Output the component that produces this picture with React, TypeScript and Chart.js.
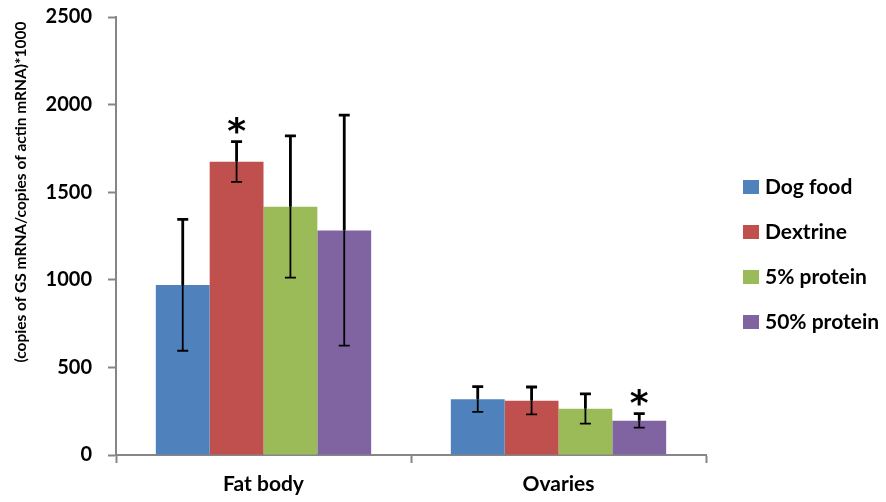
import { useEffect, useRef } from "react";
import { Chart, registerables } from "chart.js";

Chart.register(...registerables);

// Tissues on the x axis
const categories = ["Fat body", "Ovaries"];

// Mean GS expression per diet, with standard errors
const dogFood = [970, 318];
const dogFoodErr = [375, 72];
const dextrine = [1674, 310];
const dextrineErr = [115, 78];
const protein5 = [1417, 264];
const protein5Err = [405, 85];
const protein50 = [1282, 196];
const protein50Err = [658, 40];

// Significance marks (asterisk above the error bar)
const dogFoodSig = [false, false];
const dextrineSig = [true, false];
const protein5Sig = [false, false];
const protein50Sig = [false, true];

const yTicks = [0, 500, 1000, 1500, 2000, 2500];
const yTitle = "(copies of GS mRNA/copies of actin mRNA)*1000";

const FONT = "Lato, 'Open Sans', sans-serif";

const seriesDefs = [
  { label: "Dog food", data: dogFood, err: dogFoodErr, sig: dogFoodSig, color: "#4F81BD" },
  { label: "Dextrine", data: dextrine, err: dextrineErr, sig: dextrineSig, color: "#C0504D" },
  { label: "5% protein", data: protein5, err: protein5Err, sig: protein5Sig, color: "#9BBB59" },
  { label: "50% protein", data: protein50, err: protein50Err, sig: protein50Sig, color: "#8064A2" },
];

const errorBarPlugin = {
  id: "errorBars",
  afterDatasetsDraw(chart: any) {
    const { ctx } = chart;
    const y = chart.scales.y;
    chart.data.datasets.forEach((ds: any, di: number) => {
      const meta = chart.getDatasetMeta(di);
      meta.data.forEach((bar: any, i: number) => {
        const v = ds.data[i];
        const e = ds.errors[i];
        const x = bar.x;
        const yVal = y.getPixelForValue(v);
        const yTop = y.getPixelForValue(v + e);
        const yBot = y.getPixelForValue(v - e);
        const cap = 5.5;
        ctx.save();
        ctx.strokeStyle = "#000";
        ctx.lineCap = "butt";
        // part above the bar
        ctx.lineWidth = 2.8;
        ctx.beginPath();
        ctx.moveTo(x, yTop);
        ctx.lineTo(x, yVal);
        ctx.moveTo(x - cap, yTop);
        ctx.lineTo(x + cap, yTop);
        ctx.stroke();
        // part inside the bar
        ctx.lineWidth = 1.8;
        ctx.beginPath();
        ctx.moveTo(x, yVal);
        ctx.lineTo(x, yBot);
        ctx.moveTo(x - cap, yBot);
        ctx.lineTo(x + cap, yBot);
        ctx.stroke();
        if (ds.sig[i]) {
          ctx.fillStyle = "#000";
          ctx.font = `bold 36px 'DejaVu Sans', sans-serif`;
          ctx.textAlign = "center";
          ctx.textBaseline = "alphabetic";
          ctx.fillText("*", x, yTop + 1);
        }
        ctx.restore();
      });
    });
  },
};

const sideTextPlugin = {
  id: "sideText",
  afterDraw(chart: any) {
    const { ctx } = chart;
    ctx.save();
    // y axis title
    ctx.translate(21, 192);
    ctx.rotate(-Math.PI / 2);
    ctx.fillStyle = "#000";
    ctx.font = `bold 15.5px ${FONT}`;
    ctx.textAlign = "center";
    ctx.textBaseline = "middle";
    ctx.fillText(yTitle, 0, 0);
    ctx.restore();

    // legend
    ctx.save();
    ctx.font = `bold 21px ${FONT}`;
    ctx.textBaseline = "middle";
    ctx.textAlign = "left";
    chart.data.datasets.forEach((ds: any, i: number) => {
      const cy = 187 + i * 45;
      ctx.fillStyle = ds.backgroundColor;
      ctx.fillRect(743, cy - 7, 16, 14);
      ctx.fillStyle = "#000";
      ctx.fillText(ds.label, 765, cy);
    });
    ctx.restore();
  },
};

export default function App() {
  const canvasRef = useRef<HTMLCanvasElement | null>(null);

  useEffect(() => {
    if (!canvasRef.current) return;
    const chart = new Chart(canvasRef.current, {
      type: "bar",
      data: {
        labels: categories,
        datasets: seriesDefs.map((s) => ({
          label: s.label,
          data: s.data,
          errors: s.err,
          sig: s.sig,
          backgroundColor: s.color,
          borderWidth: 0,
          categoryPercentage: 0.73,
          barPercentage: 1,
        })) as any,
      },
      options: {
        responsive: false,
        animation: false,
        layout: { padding: { top: 17, right: 180, left: 0, bottom: 0 } },
        plugins: {
          legend: { display: false },
          tooltip: { enabled: false },
        },
        scales: {
          x: {
            grid: {
              offset: true,
              drawOnChartArea: false,
              tickLength: 8,
              tickColor: "#868686",
              tickWidth: 2,
            },
            border: { color: "#868686", width: 2 },
            ticks: {
              color: "#000",
              font: { family: FONT, size: 21, weight: "bold" },
              padding: 9,
            },
            afterFit(scale: any) {
              scale.height = 47;
            },
          },
          y: {
            min: 0,
            max: 2500,
            afterBuildTicks(scale: any) {
              scale.ticks = yTicks.map((v) => ({ value: v }));
            },
            grid: {
              drawOnChartArea: false,
              tickLength: 8,
              tickColor: "#868686",
              tickWidth: 2,
            },
            border: { color: "#868686", width: 2 },
            ticks: {
              color: "#000",
              font: { family: FONT, size: 20, weight: "bold" },
              padding: 16,
              callback: (v: any) => String(v),
            },
            afterFit(scale: any) {
              scale.width = 116;
              scale.paddingTop = 0;
              scale.paddingBottom = 0;
            },
          },
        },
      },
      plugins: [errorBarPlugin, sideTextPlugin],
    });
    return () => chart.destroy();
  }, []);

  return (
    <div style={{ position: "fixed", left: 0, top: 0, width: 886, height: 502, background: "#fff" }}>
      <canvas ref={canvasRef} width={886} height={502} />
    </div>
  );
}
